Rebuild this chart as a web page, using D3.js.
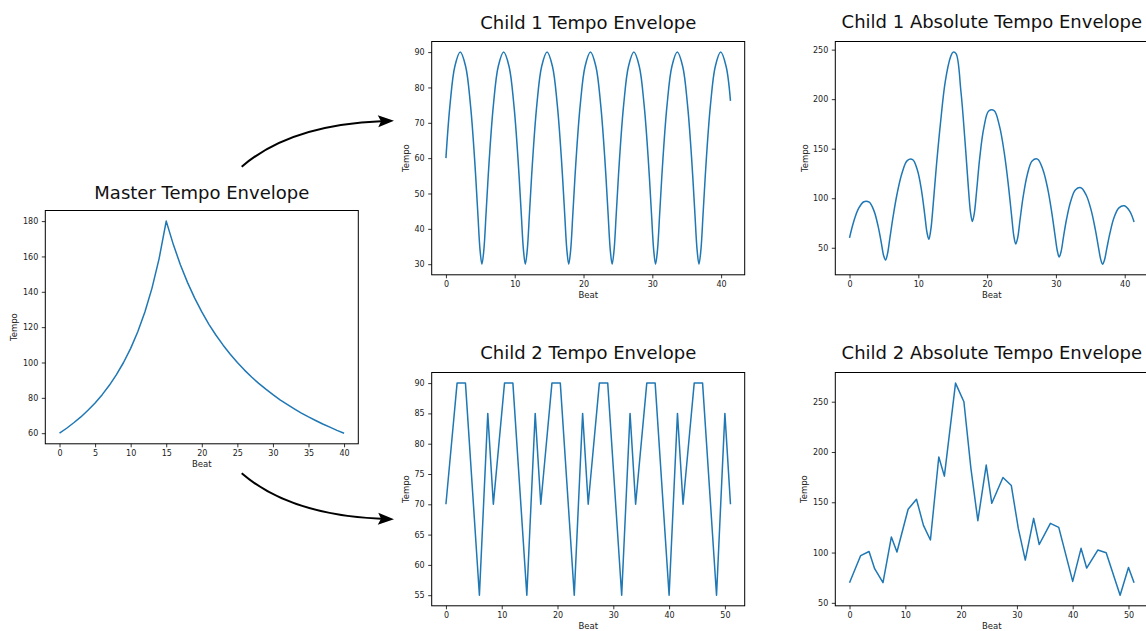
<!DOCTYPE html>
<html>
<head>
<meta charset="utf-8">
<script src="https://cdn.jsdelivr.net/npm/d3@7"></script>
<style>
body{margin:0;background:#fff;}
svg{display:block;font-family:"DejaVu Sans",sans-serif;}
</style>
</head>
<body>
<svg width="1146" height="631"></svg>
<script>
// master envelope (one value per beat)
var masterBeats = [0,1,2,3,4,5,6,7,8,9,10,11,12,13,14,15,16,17,18,19,20,21,22,23,24,25,26,27,28,29,30,31,32,33,34,35,36,37,38,39,40];
var masterTempo = [60,62.8,65.9,69.2,73.0,77.1,81.8,87.1,93.1,100,108,117.4,128.6,142.1,158.8,180,166.7,155.2,145.2,136.4,128.6,121.6,115.4,109.8,104.7,100,95.7,91.8,88.2,84.9,81.8,78.9,76.3,73.8,71.4,69.2,67.2,65.2,63.4,61.6,60];

// child 1
var child1Beats = [0,0.59,1.30,2.08,2.86,3.57,4.16,4.62,4.96,5.23,5.51,5.85,
  6.31,6.90,7.61,8.39,9.17,9.88,10.47,10.93,11.27,11.54,11.82,12.16,
  12.62,13.21,13.92,14.70,15.48,16.19,16.78,17.24,17.58,17.85,18.13,18.47,
  18.93,19.52,20.23,21.01,21.79,22.50,23.09,23.55,23.89,24.16,24.44,24.78,
  25.24,25.83,26.54,27.32,28.10,28.81,29.40,29.86,30.20,30.47,30.75,31.09,
  31.55,32.14,32.85,33.63,34.41,35.12,35.71,36.17,36.51,36.78,37.06,37.40,
  37.86,38.45,39.16,39.94,40.72,41.36];
var child1Tempo = [60,75,86,90,86,75,60,45,34,30,34,45,
  60,75,86,90,86,75,60,45,34,30,34,45,
  60,75,86,90,86,75,60,45,34,30,34,45,
  60,75,86,90,86,75,60,45,34,30,34,45,
  60,75,86,90,86,75,60,45,34,30,34,45,
  60,75,86,90,86,75,60,45,34,30,34,45,
  60,75,86,90,86,76.2];

var child1AbsBeats = [0,0.59,1.30,2.08,2.86,3.57,4.16,4.62,4.96,5.23,5.51,5.85,
  6.31,6.90,7.61,8.39,9.17,9.88,10.47,10.93,11.27,11.54,11.82,12.16,
  12.62,13.21,13.92,14.70,15.05,15.48,16.19,16.78,17.24,17.58,17.85,18.13,18.47,
  18.93,19.52,20.23,21.01,21.79,22.50,23.09,23.55,23.89,24.16,24.44,24.78,
  25.24,25.83,26.54,27.32,28.10,28.81,29.40,29.86,30.20,30.47,30.75,31.09,
  31.55,32.14,32.85,33.63,34.41,35.12,35.71,36.17,36.51,36.78,37.06,37.40,
  37.86,38.45,39.16,39.94,40.72,41.36];
var child1AbsTempo = [60,76,89.5,96.5,96,87,71.5,55,42,37.6,43.5,59,
  80.5,104,125,138,139,128,107.5,83.5,65,58.6,68.5,93.5,
  132,175,218,243,247.5,246,208,158,114,86,76.5,84.5,107,
  141,171,188,188.5,173,145.5,113,83,61.5,53.7,60,78,
  101.5,123.5,137.5,139.5,129,109.5,85.5,63,47,40.6,46,60.5,
  79,96.7,108.5,110.6,103,88,69,51,38.3,33.4,37.7,49.4,
  65,80.5,90.3,92.3,87,76];

// child 2
var child2Beats = [0,2,3.5,6,7.5,8.5,10.5,12,14.5,16,17,19,20.5,23,24.5,25.5,27.5,29,31.5,33,34,36,37.5,40,41.5,42.5,44.5,46,48.5,50,51];
var child2Tempo = [70,90,90,55,85,70,90,90,55,85,70,90,90,55,85,70,90,90,55,85,70,90,90,55,85,70,90,90,55,85,70];

var child2AbsBeats = [0,2,3.5,4.5,6,7.5,8.5,10.5,12,13.25,14.5,16,17,19,20.5,21.75,23,24.5,25.5,27.5,29,30.25,31.5,33,34,36,37.5,40,41.5,42.5,44.5,46,48.5,50,51];
var child2AbsTempo = [70,97,101,84,70,115.5,100.5,143,153,127,112.5,195,176,268.5,250,184,131.7,187,149,174.6,166.6,124,92.5,134,108,129,125,71.3,104.2,84.6,102.5,99.8,57.6,85.2,70];

// ticks
var masterXTicks = [0,5,10,15,20,25,30,35,40];
var masterYTicks = [60,80,100,120,140,160,180];
var child1XTicks = [0,10,20,30,40];
var child1YTicks = [30,40,50,60,70,80,90];
var child2XTicks = [0,10,20,30,40,50];
var child2YTicks = [55,60,65,70,75,80,85,90];
var absYTicks = [50,100,150,200,250];

var svg = d3.select('svg');
var W = 313, H = 233.3;

function drawPanel(p) {
	var g = svg.append('g').attr('transform', 'translate(' + p.left + ',' + p.top + ')');
	var xe = d3.extent(p.beats), ye = d3.extent(p.values);
	var xp = (xe[1] - xe[0]) * 0.05, yp = (ye[1] - ye[0]) * 0.05;
	var x = d3.scaleLinear().domain([xe[0] - xp, xe[1] + xp]).range([0, W]);
	var y = d3.scaleLinear().domain([ye[0] - yp, ye[1] + yp]).range([H, 0]);

	var xa = g.append('g').attr('transform', 'translate(0,' + H + ')')
		.call(d3.axisBottom(x).tickValues(p.xTicks).tickSize(3.5).tickPadding(3.5).tickFormat(d3.format('d')));
	var ya = g.append('g')
		.call(d3.axisLeft(y).tickValues(p.yTicks).tickSize(3.5).tickPadding(3.5).tickFormat(d3.format('d')));
	[xa, ya].forEach(function(a){
		a.select('.domain').remove();
		a.attr('font-family', null).attr('font-size', null);
		a.selectAll('line').attr('stroke', '#000').attr('stroke-width', 0.8);
		a.selectAll('text').attr('fill', '#222').style('font-size', '8px');
	});

	var line = d3.line()
		.x(function(d, i){ return x(p.beats[i]); })
		.y(function(d){ return y(d); })
		.curve(p.curve);
	g.append('path').datum(p.values)
		.attr('d', line)
		.attr('fill', 'none')
		.attr('stroke', '#1f77b4')
		.attr('stroke-width', 1.5)
		.attr('stroke-linejoin', 'round');

	g.append('rect').attr('width', W).attr('height', H)
		.attr('fill', 'none').attr('stroke', '#000').attr('stroke-width', 1);

	g.append('text').attr('x', W / 2).attr('y', p.titleY)
		.attr('text-anchor', 'middle').style('font-size', '18px').attr('fill', '#111')
		.text(p.title);
	g.append('text').attr('x', W / 2).attr('y', H + 23.5)
		.attr('text-anchor', 'middle').style('font-size', '8.5px').attr('fill', '#222')
		.text('Beat');
	g.append('text')
		.attr('transform', 'translate(' + (-p.labelOff) + ',' + (H / 2) + ') rotate(-90)')
		.attr('dy', '0.35em')
		.attr('text-anchor', 'middle').style('font-size', '8.5px').attr('fill', '#222')
		.text('Tempo');
}

drawPanel({left: 45.3, top: 210.5, beats: masterBeats, values: masterTempo, xTicks: masterXTicks, yTicks: masterYTicks,
	curve: d3.curveLinear, title: 'Master Tempo Envelope', titleY: -11.7, labelOff: 30.8});
drawPanel({left: 431.7, top: 41.5, beats: child1Beats, values: child1Tempo, xTicks: child1XTicks, yTicks: child1YTicks,
	curve: d3.curveCatmullRom.alpha(0.5), title: 'Child 1 Tempo Envelope', titleY: -12.8, labelOff: 25.3});
drawPanel({left: 431.7, top: 372.5, beats: child2Beats, values: child2Tempo, xTicks: child2XTicks, yTicks: child2YTicks,
	curve: d3.curveLinear, title: 'Child 2 Tempo Envelope', titleY: -14, labelOff: 25.6});
drawPanel({left: 835.3, top: 41.5, beats: child1AbsBeats, values: child1AbsTempo, xTicks: child1XTicks, yTicks: absYTicks,
	curve: d3.curveCatmullRom.alpha(0.5), title: 'Child 1 Absolute Tempo Envelope', titleY: -13.8, labelOff: 30.5});
drawPanel({left: 835.3, top: 372.5, beats: child2AbsBeats, values: child2AbsTempo, xTicks: child2XTicks, yTicks: absYTicks,
	curve: d3.curveLinear, title: 'Child 2 Absolute Tempo Envelope', titleY: -13.8, labelOff: 31});

// curved arrows from master to the children
function arrow(p0, c, tip) {
	var dx = tip[0] - c[0], dy = tip[1] - c[1];
	var len = Math.sqrt(dx * dx + dy * dy);
	var ux = dx / len, uy = dy / len;
	var hl = 16, hw = 6;
	var bx = tip[0] - ux * hl, by = tip[1] - uy * hl;
	svg.append('path')
		.attr('d', 'M' + p0[0] + ',' + p0[1] + ' Q' + c[0] + ',' + c[1] + ' ' + (bx + ux * 3) + ',' + (by + uy * 3))
		.attr('fill', 'none').attr('stroke', '#000').attr('stroke-width', 2);
	var pts = [
		[tip[0], tip[1]],
		[bx - uy * hw, by + ux * hw],
		[bx + ux * 3, by + uy * 3],
		[bx + uy * hw, by - ux * hw]
	];
	svg.append('path').attr('d', 'M' + pts.map(function(q){ return q.join(','); }).join('L') + 'Z')
		.attr('fill', '#000');
}
arrow([241.7, 166.7], [290, 125], [394, 120.7]);
arrow([241.7, 473.3], [290, 515], [394, 519.3]);
</script>
</body>
</html>
